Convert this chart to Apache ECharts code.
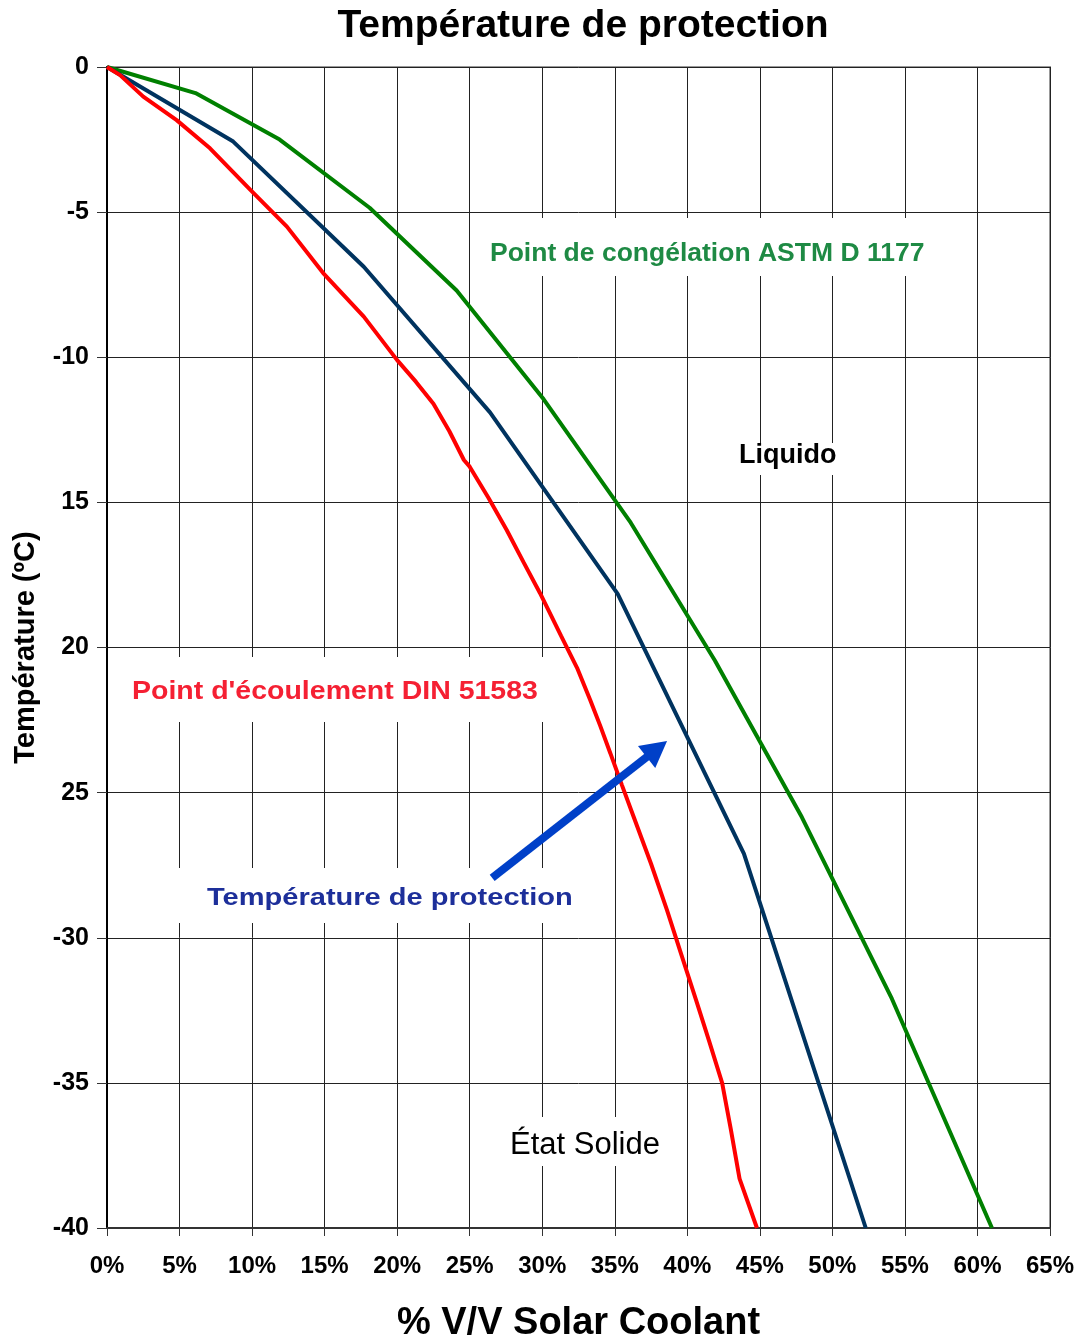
<!DOCTYPE html>
<html>
<head>
<meta charset="utf-8">
<script src="https://cdn.jsdelivr.net/npm/echarts@6/dist/echarts.min.js"></script>
<style>
html,body{margin:0;padding:0;background:#fff;}
#chart{width:1084px;height:1344px;}
</style>
</head>
<body>
<div id="chart"></div>
<script>
// ---- data (x = % V/V, y = °C) ----
const titleText = 'Température de protection';
const xAxisName = '% V/V Solar Coolant';
const yAxisName = 'Température (ºC)';

// Point de congélation ASTM D 1177 (green)
const greenX = [0, 6.1, 11.9, 18.1, 24.1, 30.1, 36.1, 41.9, 47.9, 54.1, 61.0];
const greenY = [0, -0.9, -2.5, -4.85, -7.7, -11.45, -15.7, -20.45, -25.85, -32.1, -40];

// Température de protection (navy)
const blueX = [0, 8.7, 17.7, 26.4, 35.2, 43.9, 52.3];
const blueY = [0, -2.57, -6.88, -11.9, -18.15, -27.1, -40];

// Point d'écoulement DIN 51583 (red)
const redX = [0, 0.9, 2.5, 4.8, 7.1, 9.9, 12.4, 14.9, 17.7, 20.0, 21.3, 22.5, 23.6, 24.6, 25.0, 26.3, 27.55, 28.7, 29.85, 31.3, 32.4, 33.3, 34.0, 34.7, 35.5, 36.3, 37.5, 38.6, 39.6, 40.6, 41.5, 42.4, 43.0, 43.6, 44.8];
const redY = [0, -0.28, -1.02, -1.83, -2.8, -4.24, -5.5, -7.1, -8.6, -10.1, -10.85, -11.6, -12.55, -13.54, -13.77, -14.85, -15.95, -17.05, -18.13, -19.6, -20.7, -21.8, -22.7, -23.65, -24.75, -25.83, -27.45, -29.05, -30.6, -32.14, -33.55, -35.0, -36.6, -38.3, -40];

// axis tick labels as printed on the original
const xTickValues = [0,5,10,15,20,25,30,35,40,45,50,55,60,65];
const yTickValues = [-40,-35,-30,-25,-20,-15,-10,-5,0];
const yTickLabels = ['-40','-35','-30','25','20','15','-10','-5','0'];

// arrow annotation (data coords)
const arrowFrom = [26.55, -27.94];
const arrowTo = [37.9, -23.5];

const zip = (xs, ys) => xs.map((x, i) => [x, ys[i]]);

const chart = echarts.init(document.getElementById('chart'), null, {renderer: 'canvas'});
const FONT = 'Liberation Sans, Arial, sans-serif';

function label(text, x, y, font, color, sx) {
  return {type: 'text', z: 2, x: x, y: y, scaleX: sx || 1,
    style: {text: text, fill: color, font: font + ' ' + FONT, textAlign: 'left', textVerticalAlign: 'middle'}};
}

const option = {
  backgroundColor: '#ffffff',
  animation: false,
  title: {
    text: titleText,
    left: 578,
    textAlign: 'center',
    top: 2,
    textStyle: {fontFamily: FONT, fontSize: 39, fontWeight: 'bold', color: '#000'}
  },
  grid: {
    left: 107, right: 34, top: 67, bottom: 116,
    containLabel: false, outerBoundsMode: 'none',
    show: true, borderColor: '#999', borderWidth: 2, backgroundColor: 'transparent'
  },
  xAxis: {
    type: 'value', min: 0, max: 65, interval: 5,
    name: xAxisName, nameLocation: 'middle', nameGap: 77,
    nameTextStyle: {fontFamily: FONT, fontSize: 38, fontWeight: 'bold', color: '#000'},
    axisLine: {show: true, onZero: false, lineStyle: {color: '#333', width: 2}},
    axisTick: {show: true, length: 8, lineStyle: {color: '#333', width: 1}},
    axisLabel: {
      margin: 26, fontFamily: FONT, fontSize: 24, fontWeight: 'bold', color: '#000',
      formatter: v => xTickValues.includes(v) ? v + '%' : ''
    },
    splitLine: {show: true, lineStyle: {color: '#222', width: 1}}
  },
  yAxis: {
    type: 'value', min: -40, max: 0, interval: 5,
    name: yAxisName, nameLocation: 'middle', nameGap: 67, nameRotate: 90,
    nameTextStyle: {fontFamily: FONT, fontSize: 29, fontWeight: 'bold', color: '#000'},
    axisLine: {show: true, onZero: false, lineStyle: {color: '#000', width: 2}},
    axisTick: {show: true, length: 10, lineStyle: {color: '#333', width: 1}},
    axisLabel: {
      margin: 18, fontFamily: FONT, fontSize: 25, fontWeight: 'bold', color: '#000',
      formatter: v => { const i = yTickValues.indexOf(v); return i >= 0 ? yTickLabels[i] : ''; }
    },
    splitLine: {show: true, lineStyle: {color: '#222', width: 1}}
  },
  graphic: [
    {type: 'rect', z: 1, shape: {x: 478, y: 218, width: 455, height: 58}, style: {fill: '#fff'}},
    label('Point de congélation ASTM D 1177', 490, 254, 'bold 25px', '#1e8a44', 1.06),
    {type: 'rect', z: 1, shape: {x: 733, y: 443, width: 112, height: 32}, style: {fill: '#fff'}},
    label('Liquido', 739, 456, 'bold 27px', '#000', 1),
    {type: 'rect', z: 1, shape: {x: 120, y: 657, width: 425, height: 65}, style: {fill: '#fff'}},
    label("Point d'écoulement DIN 51583", 132, 692, 'bold 25px', '#f52033', 1.14),
    {type: 'rect', z: 1, shape: {x: 168, y: 868, width: 420, height: 55}, style: {fill: '#fff'}},
    label('Température de protection', 207, 898, 'bold 24px', '#1d2f9a', 1.21),
    {type: 'rect', z: 1, shape: {x: 496, y: 1117, width: 175, height: 49}, style: {fill: '#fff'}},
    label('État Solide', 510, 1145, '31px', '#000', 1)
  ],
  series: [
    {
      name: 'Point de congélation ASTM D 1177', type: 'line', data: zip(greenX, greenY),
      showSymbol: false, symbol: 'none', z: 5,
      lineStyle: {color: '#008000', width: 4}
    },
    {
      name: 'Température de protection', type: 'line', data: zip(blueX, blueY),
      showSymbol: false, symbol: 'none', z: 5,
      lineStyle: {color: '#00335f', width: 4}
    },
    {
      name: "Point d'écoulement DIN 51583", type: 'line', data: zip(redX, redY),
      showSymbol: false, symbol: 'none', z: 5,
      lineStyle: {color: '#ff0000', width: 4},
      markLine: {
        silent: true, z: 6,
        symbol: ['none', 'triangle'], symbolSize: [28, 26],
        label: {show: false},
        lineStyle: {color: '#0040c8', width: 8, type: 'solid'},
        data: [[{coord: arrowFrom}, {coord: arrowTo}]]
      }
    }
  ]
};
chart.setOption(option);
</script>
</body>
</html>
